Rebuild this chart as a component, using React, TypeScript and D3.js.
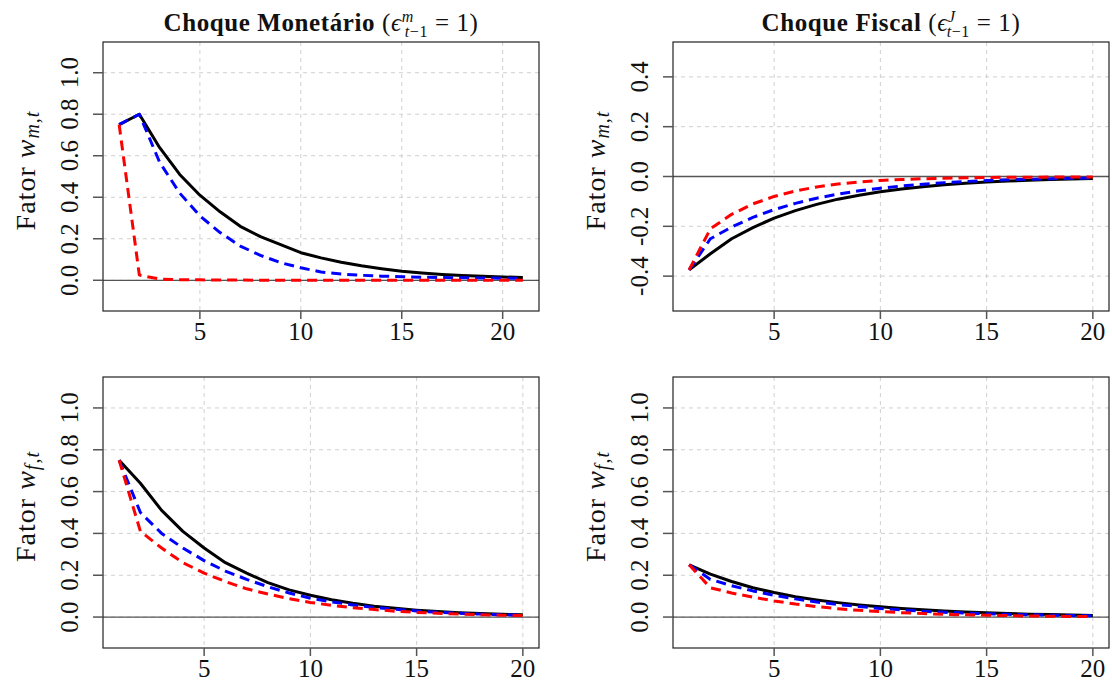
import React from "react";
import * as d3 from "d3";

// ---------- data ----------
const tMon = d3.range(1, 22); // 1..21
const tFis = d3.range(1, 21); // 1..20

// Monetary shock, factor w_m
const monWmBlack = [0.75, 0.80, 0.64, 0.51, 0.41, 0.33, 0.26, 0.21, 0.172, 0.133, 0.108, 0.087, 0.07, 0.056, 0.044, 0.035, 0.028, 0.023, 0.019, 0.016, 0.013];
const monWmBlue = [0.75, 0.80, 0.57, 0.42, 0.31, 0.23, 0.165, 0.12, 0.085, 0.06, 0.04, 0.03, 0.024, 0.02, 0.017, 0.015, 0.013, 0.012, 0.011, 0.010, 0.010];
const monWmRed = [0.75, 0.025, 0.006, 0.003, 0.002, 0.001, 0.001, 0.0, 0.0, 0.0, 0.0, 0.0, 0.0, 0.0, 0.0, 0.0, 0.0, 0.0, 0.0, 0.0, 0.0];

// Fiscal shock, factor w_m
const fisWmBlack = [-0.375, -0.31, -0.25, -0.205, -0.167, -0.137, -0.112, -0.091, -0.075, -0.061, -0.05, -0.041, -0.033, -0.027, -0.022, -0.018, -0.015, -0.012, -0.01, -0.008];
const fisWmBlue = [-0.375, -0.25, -0.203, -0.164, -0.133, -0.108, -0.087, -0.071, -0.057, -0.047, -0.038, -0.031, -0.025, -0.02, -0.016, -0.013, -0.011, -0.009, -0.007, -0.006];
const fisWmRed = [-0.375, -0.21, -0.152, -0.11, -0.08, -0.058, -0.042, -0.03, -0.022, -0.016, -0.012, -0.009, -0.007, -0.005, -0.004, -0.003, -0.003, -0.002, -0.002, -0.002];

// Monetary shock, factor w_f
const monWfBlack = [0.75, 0.64, 0.51, 0.41, 0.33, 0.26, 0.21, 0.165, 0.13, 0.104, 0.083, 0.066, 0.052, 0.042, 0.033, 0.026, 0.021, 0.017, 0.013, 0.011];
const monWfBlue = [0.75, 0.50, 0.40, 0.33, 0.27, 0.22, 0.18, 0.145, 0.115, 0.09, 0.073, 0.058, 0.046, 0.037, 0.029, 0.023, 0.018, 0.014, 0.011, 0.009];
const monWfRed = [0.75, 0.41, 0.33, 0.26, 0.21, 0.17, 0.135, 0.11, 0.088, 0.07, 0.056, 0.045, 0.036, 0.028, 0.022, 0.018, 0.014, 0.011, 0.009, 0.007];

// Fiscal shock, factor w_f
const fisWfBlack = [0.25, 0.205, 0.17, 0.14, 0.117, 0.097, 0.082, 0.069, 0.058, 0.049, 0.041, 0.035, 0.029, 0.024, 0.02, 0.017, 0.014, 0.012, 0.01, 0.008];
const fisWfBlue = [0.25, 0.18, 0.15, 0.125, 0.104, 0.087, 0.072, 0.06, 0.05, 0.041, 0.034, 0.028, 0.023, 0.019, 0.016, 0.013, 0.011, 0.009, 0.007, 0.006];
const fisWfRed = [0.25, 0.14, 0.115, 0.095, 0.077, 0.062, 0.05, 0.04, 0.032, 0.026, 0.021, 0.017, 0.013, 0.011, 0.009, 0.007, 0.005, 0.004, 0.003, 0.003];

const xTicks = [5, 10, 15, 20];
const yTicksPos = [0, 0.2, 0.4, 0.6, 0.8, 1.0];
const yTicksSym = [-0.4, -0.2, 0, 0.2, 0.4];

const FONT = "'Liberation Serif', 'DejaVu Serif', serif";

type Series = { t: number[]; v: number[]; color: string; dashed: boolean };

type PanelProps = {
  x0: number; x1: number; y0: number; y1: number;
  xDomain: [number, number]; yDomain: [number, number];
  yTicks: number[];
  series: Series[];
  ylabSub: string;
  title?: React.ReactNode;
};

function fmt(v: number) {
  const s = v.toFixed(1);
  return s === "-0.0" ? "0.0" : s;
}

function Panel(p: PanelProps) {
  const x = d3.scaleLinear().domain(p.xDomain).range([p.x0, p.x1]);
  const y = d3.scaleLinear().domain(p.yDomain).range([p.y1, p.y0]);
  const line = d3.line<[number, number]>().x((d) => x(d[0])).y((d) => y(d[1]));
  const cy = (p.y0 + p.y1) / 2;
  const cx = (p.x0 + p.x1) / 2;
  const tickLabX = p.x0 - 34;
  const ylabX = p.x0 - 78;
  return (
    <g>
      {xTicks.map((t) => (
        <line key={"gx" + t} x1={x(t)} x2={x(t)} y1={p.y0} y2={p.y1} stroke="#d0d0d0" strokeWidth={1} strokeDasharray="4,4" />
      ))}
      {p.yTicks.map((t) => (
        <line key={"gy" + t} x1={p.x0} x2={p.x1} y1={y(t)} y2={y(t)} stroke="#d0d0d0" strokeWidth={1} strokeDasharray="4,4" />
      ))}
      <line x1={p.x0} x2={p.x1} y1={y(0)} y2={y(0)} stroke="#555" strokeWidth={1.3} />
      {p.series.map((s, i) => (
        <path
          key={i}
          d={line(s.t.map((t, j) => [t, s.v[j]] as [number, number])) || ""}
          fill="none"
          stroke={s.color}
          strokeWidth={3}
          strokeDasharray={s.dashed ? "10,6" : undefined}
          strokeLinejoin="round"
        />
      ))}
      <rect x={p.x0} y={p.y0} width={p.x1 - p.x0} height={p.y1 - p.y0} fill="none" stroke="#222" strokeWidth={1.2} />
      {xTicks.map((t) => (
        <g key={"xt" + t}>
          <line x1={x(t)} x2={x(t)} y1={p.y1} y2={p.y1 + 8} stroke="#555" strokeWidth={1.5} />
          <text x={x(t)} y={p.y1 + 29} textAnchor="middle" fontFamily={FONT} fontSize={25} fill="#111">{t}</text>
        </g>
      ))}
      {p.yTicks.map((t) => (
        <g key={"yt" + t}>
          <line x1={p.x0 - 10} x2={p.x0} y1={y(t)} y2={y(t)} stroke="#555" strokeWidth={1.5} />
          <text
            transform={`translate(${tickLabX},${y(t)}) rotate(-90)`}
            textAnchor="middle"
            dominantBaseline="central"
            fontFamily={FONT}
            fontSize={25}
            fill="#111"
          >
            {fmt(t)}
          </text>
        </g>
      ))}
      <text
        transform={`translate(${ylabX},${cy - 6}) rotate(-90)`}
        textAnchor="middle"
        dominantBaseline="central"
        fontFamily={FONT}
        fontSize={28}
        letterSpacing={1}
        fill="#111"
      >
        Fator <tspan fontStyle="italic">w</tspan>
        <tspan fontStyle="italic" fontSize={20} dy={7}>{p.ylabSub}</tspan>
      </text>
      {p.title && (
        <text x={cx} y={p.y0 - 11} textAnchor="middle" fontFamily={FONT} fontSize={25} fontWeight="bold" letterSpacing={0.6} fill="#111">
          {p.title}
        </text>
      )}
    </g>
  );
}

function Title({ main, sup }: { main: string; sup: string }) {
  return (
    <>
      {main} <tspan fontWeight="normal">(</tspan>
      <tspan fontWeight="normal" fontStyle="italic">ϵ</tspan>
      <tspan fontWeight="normal" fontStyle="italic" fontSize={16} dy={-9}>{sup}</tspan>
      <tspan fontWeight="normal" fontStyle="italic" fontSize={16} dy={15} dx={-9}>t</tspan>
      <tspan fontWeight="normal" fontSize={16}>−1</tspan>
      <tspan fontWeight="normal" dy={-6}> = 1)</tspan>
    </>
  );
}

export default function App() {
  const L = { x0: 103, x1: 539 };
  const R = { x0: 673, x1: 1109 };
  const T = { y0: 42, y1: 311 };
  const B = { y0: 377, y1: 648 };
  const yPos: [number, number] = [-0.148, 1.148];
  const ySym: [number, number] = [-0.54, 0.54];
  const x21: [number, number] = [0.2, 21.8];
  const x20: [number, number] = [0.24, 20.76];

  return (
    <svg width={1112} height={682} style={{ position: "absolute", left: 0, top: 0, background: "#fff" }}>
      <rect x={0} y={0} width={1112} height={682} fill="#fff" />
      <Panel
        {...L} {...T} xDomain={x21} yDomain={yPos} yTicks={yTicksPos} ylabSub="m,t"
        title={<Title main="Choque Monetário" sup="m" />}
        series={[
          { t: tMon, v: monWmBlack, color: "#000", dashed: false },
          { t: tMon, v: monWmBlue, color: "#0000ff", dashed: true },
          { t: tMon, v: monWmRed, color: "#ff0000", dashed: true },
        ]}
      />
      <Panel
        {...R} {...T} xDomain={x20} yDomain={ySym} yTicks={yTicksSym} ylabSub="m,t"
        title={<Title main="Choque Fiscal" sup="J" />}
        series={[
          { t: tFis, v: fisWmBlack, color: "#000", dashed: false },
          { t: tFis, v: fisWmBlue, color: "#0000ff", dashed: true },
          { t: tFis, v: fisWmRed, color: "#ff0000", dashed: true },
        ]}
      />
      <Panel
        {...L} {...B} xDomain={x20} yDomain={yPos} yTicks={yTicksPos} ylabSub="f,t"
        series={[
          { t: tFis, v: monWfBlack, color: "#000", dashed: false },
          { t: tFis, v: monWfBlue, color: "#0000ff", dashed: true },
          { t: tFis, v: monWfRed, color: "#ff0000", dashed: true },
        ]}
      />
      <Panel
        {...R} {...B} xDomain={x20} yDomain={yPos} yTicks={yTicksPos} ylabSub="f,t"
        series={[
          { t: tFis, v: fisWfBlack, color: "#000", dashed: false },
          { t: tFis, v: fisWfBlue, color: "#0000ff", dashed: true },
          { t: tFis, v: fisWfRed, color: "#ff0000", dashed: true },
        ]}
      />
    </svg>
  );
}
